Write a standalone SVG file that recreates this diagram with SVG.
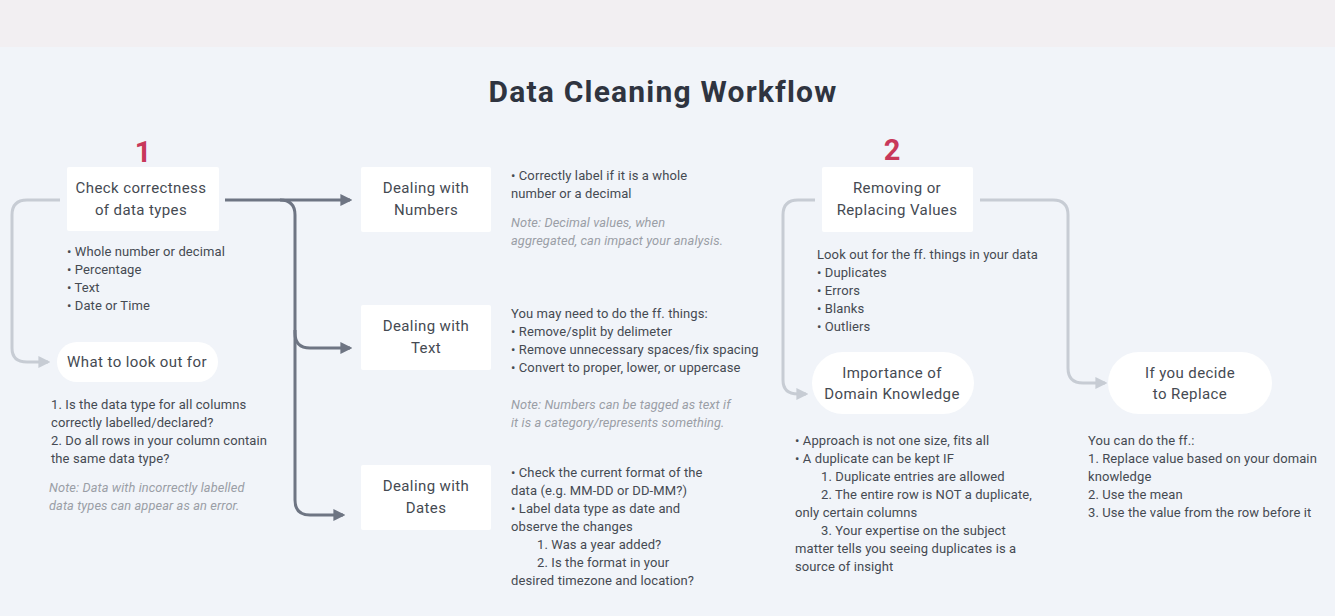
<svg xmlns="http://www.w3.org/2000/svg" width="1335" height="616" viewBox="0 0 1335 616">
<style>
.t{font-family:Roboto,"Liberation Sans",sans-serif;fill:#454a52}
.nt{font-size:15px;text-anchor:middle;letter-spacing:0.4px}
.bt{font-size:13px;letter-spacing:0.1px}
.note{font-size:12.8px;font-style:italic;fill:#9a9ea6;letter-spacing:0.1px}
.num{font-family:Roboto,"Liberation Sans",sans-serif;font-size:29px;font-weight:bold;fill:#c8385a;text-anchor:middle}
.box{fill:#ffffff}
.dk{fill:none;stroke:#6e7583;stroke-width:3}
.lt{fill:none;stroke:#c7ccd4;stroke-width:3}
</style>
<defs>
<marker id="ad" viewBox="0 0 10 10" refX="8" refY="5" markerWidth="4" markerHeight="4" orient="auto" markerUnits="strokeWidth"><path d="M0,0 L10,5 L0,10 z" fill="#6e7583"/></marker>
<marker id="al" viewBox="0 0 10 10" refX="8" refY="5" markerWidth="4" markerHeight="4" orient="auto" markerUnits="strokeWidth"><path d="M0,0 L10,5 L0,10 z" fill="#c7ccd4"/></marker>
</defs>
<rect x="0" y="0" width="1335" height="616" fill="#f1f4f9"/>
<rect x="0" y="0" width="1335" height="47" fill="#f2eff2"/>
<text x="663" y="102" font-family="Roboto,'Liberation Sans',sans-serif" font-size="30" font-weight="bold" fill="#2f3440" text-anchor="middle" letter-spacing="1.2">Data Cleaning Workflow</text>
<text class="num" x="143" y="162">1</text>
<text class="num" x="892" y="160">2</text>

<g id="connectors">
<path class="dk" d="M225,200 L350,200" marker-end="url(#ad)"/>
<path class="dk" d="M280,200 Q295,200 295,215 L295,333 Q295,348 310,348 L350,348" marker-end="url(#ad)"/>
<path class="dk" d="M295,330 L295,500 Q295,515 310,515 L343,515" marker-end="url(#ad)"/>
<path class="lt" d="M60,200 L27,200 Q12,200 12,215 L12,348 Q12,362 27,362 L48,362" marker-end="url(#al)"/>
<path class="lt" d="M815,200 L798,200 Q783,200 783,215 L783,380 Q783,394 798,394 L806,394" marker-end="url(#al)"/>
<path class="lt" d="M980,200 L1053,200 Q1068,200 1068,215 L1068,368 Q1068,383 1083,383 L1105,383" marker-end="url(#al)"/>
</g>

<g id="n-check">
<rect class="box" x="67" y="167" width="152" height="64" rx="2"/>
<text class="t nt" x="141" y="193">Check correctness</text>
<text class="t nt" x="141" y="215">of data types</text>
<text class="t bt" x="67" y="256">• Whole number or decimal</text>
<text class="t bt" x="67" y="274">• Percentage</text>
<text class="t bt" x="67" y="292">• Text</text>
<text class="t bt" x="67" y="310">• Date or Time</text>
</g>

<g id="n-lookout">
<rect class="box" x="57" y="342" width="161" height="40" rx="20"/>
<text class="t nt" x="137" y="367">What to look out for</text>
<text class="t bt" x="51" y="409">1. Is the data type for all columns</text>
<text class="t bt" x="51" y="427">correctly labelled/declared?</text>
<text class="t bt" x="51" y="445">2. Do all rows in your column contain</text>
<text class="t bt" x="51" y="463">the same data type?</text>
<text class="t note" x="49" y="492">Note: Data with incorrectly labelled</text>
<text class="t note" x="49" y="510">data types can appear as an error.</text>
</g>

<g id="n-numbers">
<rect class="box" x="361" y="167" width="130" height="65" rx="2"/>
<text class="t nt" x="426" y="193">Dealing with</text>
<text class="t nt" x="426" y="215">Numbers</text>
<text class="t bt" x="511" y="180">• Correctly label if it is a whole</text>
<text class="t bt" x="511" y="198">number or a decimal</text>
<text class="t note" x="511" y="227">Note: Decimal values, when</text>
<text class="t note" x="511" y="245">aggregated, can impact your analysis.</text>
</g>

<g id="n-text">
<rect class="box" x="361" y="305" width="130" height="65" rx="2"/>
<text class="t nt" x="426" y="331">Dealing with</text>
<text class="t nt" x="426" y="353">Text</text>
<text class="t bt" x="511" y="318">You may need to do the ff. things:</text>
<text class="t bt" x="511" y="336">• Remove/split by delimeter</text>
<text class="t bt" x="511" y="354">• Remove unnecessary spaces/fix spacing</text>
<text class="t bt" x="511" y="372">• Convert to proper, lower, or uppercase</text>
<text class="t note" x="511" y="409">Note: Numbers can be tagged as text if</text>
<text class="t note" x="511" y="427">it is a category/represents something.</text>
</g>

<g id="n-dates">
<rect class="box" x="361" y="465" width="130" height="65" rx="2"/>
<text class="t nt" x="426" y="491">Dealing with</text>
<text class="t nt" x="426" y="513">Dates</text>
<text class="t bt" x="511" y="477">• Check the current format of the</text>
<text class="t bt" x="511" y="495">data (e.g. MM-DD or DD-MM?)</text>
<text class="t bt" x="511" y="513">• Label data type as date and</text>
<text class="t bt" x="511" y="531">observe the changes</text>
<text class="t bt" x="537" y="549">1.  Was a year added?</text>
<text class="t bt" x="537" y="567">2.  Is the format in your</text>
<text class="t bt" x="511" y="585">desired timezone and location?</text>
</g>

<g id="n-remove">
<rect class="box" x="822" y="167" width="151" height="65" rx="2"/>
<text class="t nt" x="897" y="193">Removing or</text>
<text class="t nt" x="897" y="215">Replacing Values</text>
<text class="t bt" x="817" y="259">Look out for the ff. things in your data</text>
<text class="t bt" x="817" y="277">• Duplicates</text>
<text class="t bt" x="817" y="295">• Errors</text>
<text class="t bt" x="817" y="313">• Blanks</text>
<text class="t bt" x="817" y="331">• Outliers</text>
</g>

<g id="n-domain">
<rect class="box" x="812" y="352" width="162" height="62" rx="31"/>
<text class="t nt" x="892" y="378">Importance of</text>
<text class="t nt" x="892" y="399">Domain Knowledge</text>
<text class="t bt" x="795" y="445">• Approach is not one size, fits all</text>
<text class="t bt" x="795" y="463">• A duplicate can be kept IF</text>
<text class="t bt" x="821" y="481">1. Duplicate entries are allowed</text>
<text class="t bt" x="821" y="499">2. The entire row is NOT a duplicate,</text>
<text class="t bt" x="795" y="517">only certain columns</text>
<text class="t bt" x="821" y="535">3. Your expertise on the subject</text>
<text class="t bt" x="795" y="553">matter tells you seeing duplicates is a</text>
<text class="t bt" x="795" y="571">source of insight</text>
</g>

<g id="n-replace">
<rect class="box" x="1108" y="352" width="164" height="62" rx="31"/>
<text class="t nt" x="1190" y="378">If you decide</text>
<text class="t nt" x="1190" y="399">to Replace</text>
<text class="t bt" x="1088" y="445">You can do the ff.:</text>
<text class="t bt" x="1088" y="463">1. Replace value based on your domain</text>
<text class="t bt" x="1088" y="481">knowledge</text>
<text class="t bt" x="1088" y="499">2. Use the mean</text>
<text class="t bt" x="1088" y="517">3. Use the value from the row before it</text>
</g>
</svg>
